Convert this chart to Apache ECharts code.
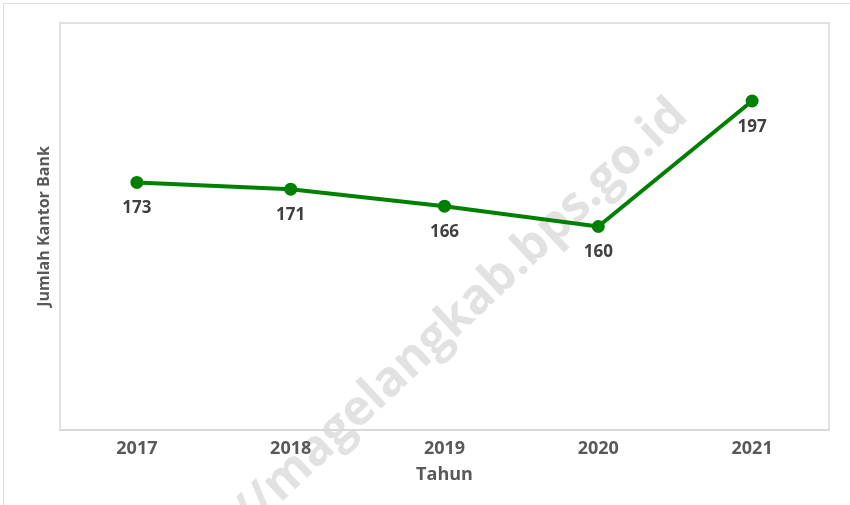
<!DOCTYPE html>
<html>
<head>
<meta charset="utf-8">
<script src="https://cdn.jsdelivr.net/npm/echarts@6/dist/echarts.min.js"></script>
<style>html,body{margin:0;padding:0;background:#fff;}#main{width:850px;height:505px;}</style>
</head>
<body>
<div id="main"></div>
<script>
var categories = ['2017', '2018', '2019', '2020', '2021'];
var values = [173, 171, 166, 160, 197];

var chart = echarts.init(document.getElementById('main'));
var FONT = '"Open Sans", "Noto Sans", sans-serif';
chart.setOption({
  animation: false,
  backgroundColor: '#ffffff',
  grid: { left: 60, right: 21, top: 23, bottom: 75, show: true, borderColor: '#d9d9d9', borderWidth: 1.5, backgroundColor: 'transparent' },
  xAxis: {
    type: 'category',
    data: categories,
    boundaryGap: true,
    name: 'Tahun',
    nameLocation: 'middle',
    nameGap: 36,
    nameTextStyle: { fontFamily: FONT, fontWeight: 'bold', fontSize: 18, color: '#595959' },
    axisLine: { show: true, lineStyle: { color: '#d9d9d9', width: 2 } },
    axisTick: { show: false },
    axisLabel: { margin: 10, fontFamily: FONT, fontWeight: 'bold', fontSize: 18, color: '#595959' }
  },
  yAxis: {
    type: 'value',
    min: 100,
    max: 220,
    name: 'Jumlah Kantor Bank',
    nameLocation: 'middle',
    nameGap: 8,
    nameTextStyle: { fontFamily: FONT, fontWeight: 'bold', fontSize: 16, color: '#595959' },
    axisLine: { show: false },
    axisTick: { show: false },
    axisLabel: { show: false },
    splitLine: { show: false }
  },
  graphic: [
    { type: 'rect', silent: true, z: -10, shape: { x: 3.5, y: 3.5, width: 900, height: 600 }, style: { fill: 'none', stroke: '#dcdcdc', lineWidth: 1 } },
    { type: 'text', silent: true, z: 0, x: 680, y: 108, rotation: 0.755,
      style: { text: 'https://magelangkab.bps.go.id', fontFamily: FONT, fontWeight: 'bold', fontSize: 49, fill: '#e2e2e2', align: 'right', verticalAlign: 'middle' } }
  ],
  series: [{
    type: 'line',
    z: 5,
    data: values,
    symbol: 'circle',
    symbolSize: 13,
    lineStyle: { color: '#008000', width: 4 },
    itemStyle: { color: '#008000' },
    label: { show: true, position: 'bottom', distance: 11, fontFamily: FONT, fontWeight: 'bold', fontSize: 17, color: '#404040' }
  }]
});
</script>
</body>
</html>
